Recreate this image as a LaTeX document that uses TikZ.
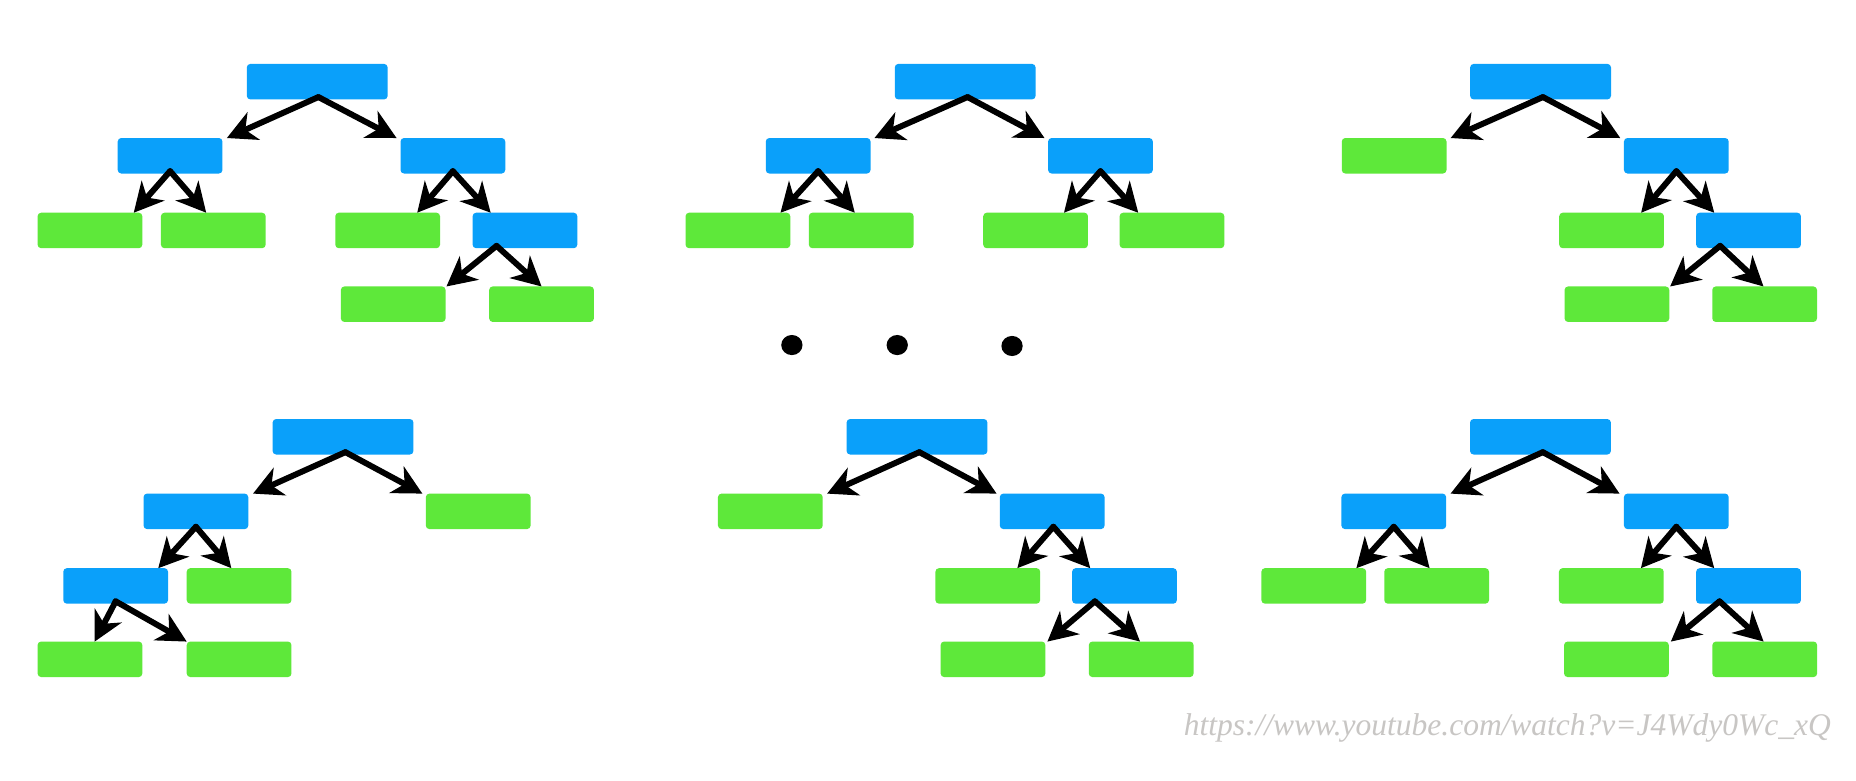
\documentclass[tikz,border=0pt]{standalone}
\usepackage{fontspec}
\newfontfamily\wmfont{Liberation Serif}
\usetikzlibrary{arrows.meta,calc,shapes.geometric}
\definecolor{nodeblue}{RGB}{10,160,250}
\definecolor{leafgreen}{RGB}{94,232,58}
\definecolor{wmgray}{RGB}{200,198,196}
\tikzset{
  bigbox/.style={fill=nodeblue,rounded corners=1.5pt,minimum width=59.5pt,minimum height=15pt,inner sep=0pt,outer sep=0pt},
  bluebox/.style={fill=nodeblue,rounded corners=1.5pt,minimum width=44.25pt,minimum height=15pt,inner sep=0pt,outer sep=0pt},
  greenbox/.style={fill=leafgreen,rounded corners=1.5pt,minimum width=44.25pt,minimum height=15pt,inner sep=0pt,outer sep=0pt},
  arr/.style={draw=black,line width=2.5pt,line cap=round,-{Stealth[length=12.5pt,width=13pt,inset=4pt,line width=0pt,fill=black,color=black]}},
  dotmark/.style={fill=black,ellipse,minimum width=9pt,minimum height=8.5pt,inner sep=0pt}
}
\begin{document}
\begin{tikzpicture}[x=0.5pt,y=0.5pt]
\useasboundingbox[fill=white] (0,0) rectangle (1568,659);
% ---------- Tree 1 (top left)
\node[bigbox]   (r1) at (268,590) {};
\node[bluebox]  (a1) at (143.7,527.4) {};
\node[bluebox]  (b1) at (382.6,527.4) {};
\node[greenbox] (c1) at (76,464.3) {};
\node[greenbox] (d1) at (180.2,464.3) {};
\node[greenbox] (e1) at (327.5,464.3) {};
\node[bluebox]  (f1) at (443.5,464.3) {};
\node[greenbox] (g1) at (332.2,402) {};
\node[greenbox] (h1) at (457.5,402) {};
\draw[arr] ($(r1.south)+(1,2)$) -- ($(a1.north)+(48,0)$);
\draw[arr] ($(r1.south)+(1,2)$) -- ($(b1.north)+(-47.6,0)$);
\draw[arr] ($(a1.south)+(0,2)$) -- ($(c1.north)+(37,0)$);
\draw[arr] ($(a1.south)+(0,2)$) -- ($(d1.north)+(-6,0)$);
\draw[arr] ($(b1.south)+(0,2)$) -- ($(e1.north)+(25,0)$);
\draw[arr] ($(b1.south)+(0,2)$) -- ($(f1.north)+(-29,0)$);
\draw[arr] ($(f1.south)+(-24,2)$) -- ($(g1.north)+(45,0)$);
\draw[arr] ($(f1.south)+(-24,2)$) -- ($(h1.north)+(0,0)$);
% ---------- Tree 2 (top middle)
\node[bigbox]   (r2) at (815.4,590) {};
\node[bluebox]  (a2) at (691.2,527.4) {};
\node[bluebox]  (b2) at (929.7,527.4) {};
\node[greenbox] (c2) at (623.4,464.3) {};
\node[greenbox] (d2) at (727.6,464.3) {};
\node[greenbox] (e2) at (874.9,464.3) {};
\node[greenbox] (f2) at (990.1,464.3) {};
\draw[arr] ($(r2.south)+(2,2)$) -- ($(a2.north)+(47.6,0)$);
\draw[arr] ($(r2.south)+(2,2)$) -- ($(b2.north)+(-47.3,0)$);
\draw[arr] ($(a2.south)+(0,2)$) -- ($(c2.north)+(36,0)$);
\draw[arr] ($(a2.south)+(0,2)$) -- ($(d2.north)+(-5.5,0)$);
\draw[arr] ($(b2.south)+(0,2)$) -- ($(e2.north)+(24,0)$);
\draw[arr] ($(b2.south)+(0,2)$) -- ($(f2.north)+(-28.5,0)$);
% ---------- Tree 3 (top right)
\node[bigbox]   (r3) at (1301.5,590) {};
\node[greenbox] (a3) at (1177.8,527.4) {};
\node[bluebox]  (b3) at (1416.2,527.4) {};
\node[greenbox] (c3) at (1361.5,464.3) {};
\node[bluebox]  (f3) at (1477.2,464.3) {};
\node[greenbox] (g3) at (1366,402) {};
\node[greenbox] (h3) at (1490.8,402) {};
\draw[arr] ($(r3.south)+(2,2)$) -- ($(a3.north)+(47.8,0)$);
\draw[arr] ($(r3.south)+(2,2)$) -- ($(b3.north)+(-47.4,0)$);
\draw[arr] ($(b3.south)+(0,2)$) -- ($(c3.north)+(25,0)$);
\draw[arr] ($(b3.south)+(0,2)$) -- ($(f3.north)+(-29,0)$);
\draw[arr] ($(f3.south)+(-24,2)$) -- ($(g3.north)+(45,0)$);
\draw[arr] ($(f3.south)+(-24,2)$) -- ($(h3.north)+(-1,0)$);
% ---------- dots
\node[dotmark] (p1) at (669,367.5) {};
\node[dotmark] (p2) at (758,367.5) {};
\node[dotmark] (p3) at (855,366.7) {};
% ---------- Tree 4 (bottom left)
\node[bigbox]   (r4) at (289.8,290) {};
\node[bluebox]  (a4) at (165.5,227) {};
\node[greenbox] (b4) at (404,227) {};
\node[bluebox]  (c4) at (97.7,164) {};
\node[greenbox] (d4) at (202,164) {};
\node[greenbox] (g4) at (76,102) {};
\node[greenbox] (h4) at (202,102) {};
\draw[arr] ($(r4.south)+(2,2)$) -- ($(a4.north)+(48.3,0)$);
\draw[arr] ($(r4.south)+(2,2)$) -- ($(b4.north)+(-47.2,0)$);
\draw[arr] ($(a4.south)+(0,2)$) -- ($(c4.north)+(36,0)$);
\draw[arr] ($(a4.south)+(0,2)$) -- ($(d4.north)+(-6.6,0)$);
\draw[arr] ($(c4.south)+(0,2)$) -- ($(g4.north)+(4,0)$);
\draw[arr] ($(c4.south)+(0,2)$) -- ($(h4.north)+(-44.3,0)$);
% ---------- Tree 5 (bottom middle)
\node[bigbox]   (r5) at (774.7,290) {};
\node[greenbox] (a5) at (650.8,227) {};
\node[bluebox]  (b5) at (888.9,227) {};
\node[greenbox] (c5) at (834.5,164) {};
\node[bluebox]  (f5) at (950,164) {};
\node[greenbox] (g5) at (838.9,102) {};
\node[greenbox] (h5) at (964.1,102) {};
\draw[arr] ($(r5.south)+(2,2)$) -- ($(a5.north)+(48,0)$);
\draw[arr] ($(r5.south)+(2,2)$) -- ($(b5.north)+(-47,0)$);
\draw[arr] ($(b5.south)+(1,2)$) -- ($(c5.north)+(25,0)$);
\draw[arr] ($(b5.south)+(1,2)$) -- ($(f5.north)+(-29,0)$);
\draw[arr] ($(f5.south)+(-25,2)$) -- ($(g5.north)+(46,0)$);
\draw[arr] ($(f5.south)+(-25,2)$) -- ($(h5.north)+(-1,0)$);
% ---------- Tree 6 (bottom right)
\node[bigbox]   (r6) at (1301.4,290) {};
\node[bluebox]  (a6) at (1177.5,227) {};
\node[bluebox]  (b6) at (1416.2,227) {};
\node[greenbox] (c6) at (1109.9,164) {};
\node[greenbox] (d6) at (1213.7,164) {};
\node[greenbox] (e6) at (1361.3,164) {};
\node[bluebox]  (f6) at (1477.2,164) {};
\node[greenbox] (g6) at (1365.6,102) {};
\node[greenbox] (h6) at (1490.9,102) {};
\draw[arr] ($(r6.south)+(2,2)$) -- ($(a6.north)+(48,0)$);
\draw[arr] ($(r6.south)+(2,2)$) -- ($(b6.north)+(-48,0)$);
\draw[arr] ($(a6.south)+(0,2)$) -- ($(c6.north)+(36,0)$);
\draw[arr] ($(a6.south)+(0,2)$) -- ($(d6.north)+(-6,0)$);
\draw[arr] ($(b6.south)+(0,2)$) -- ($(e6.north)+(25,0)$);
\draw[arr] ($(b6.south)+(0,2)$) -- ($(f6.north)+(-29,0)$);
\draw[arr] ($(f6.south)+(-24.5,2)$) -- ($(g6.north)+(46,0)$);
\draw[arr] ($(f6.south)+(-24.5,2)$) -- ($(h6.north)+(-1,0)$);
% ---------- watermark
\node[anchor=base east,inner sep=0pt,text=wmgray,font=\wmfont\itshape\fontsize{13.3pt}{15pt}\selectfont] (wm) at (1547,38) {https://www.youtube.com/watch?v=J4Wdy0Wc\_xQ};
\end{tikzpicture}
\end{document}
